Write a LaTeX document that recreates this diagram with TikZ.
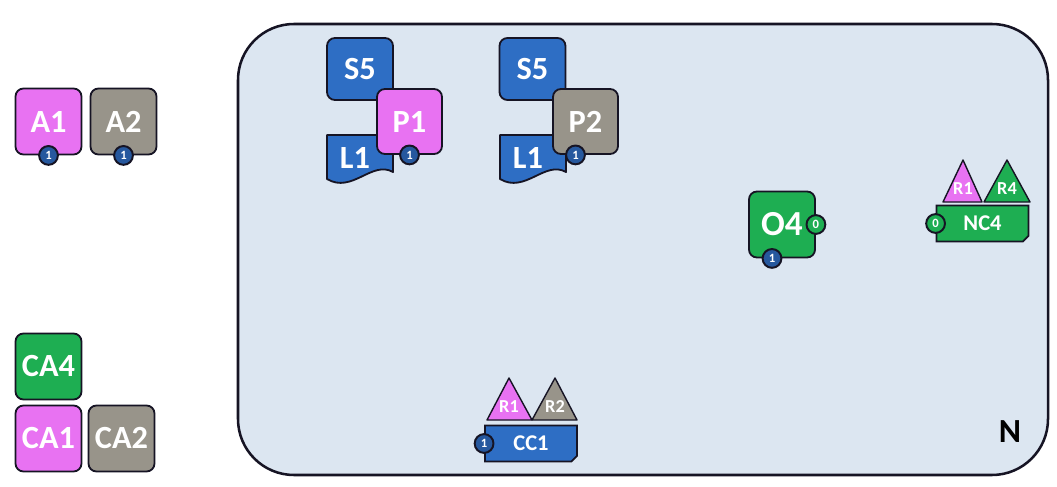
\documentclass[tikz,border=0pt]{standalone}
\usepackage{fontspec}
\setmainfont{Carlito}
\usetikzlibrary{shapes.misc}

\definecolor{pinkA}{RGB}{232,114,242}
\definecolor{grayA}{RGB}{152,148,138}
\definecolor{greenA}{RGB}{30,174,82}
\definecolor{blueA}{RGB}{46,110,196}
\definecolor{blueB}{RGB}{38,88,158}
\definecolor{field}{RGB}{220,230,241}
\definecolor{edge}{RGB}{22,20,36}

\tikzset{
  box/.style={draw=edge, line width=1.3pt, rounded corners=0.2cm, minimum width=1.65cm, minimum height=1.65cm,
    inner sep=0pt, text=white, font=\bfseries\fontsize{23}{23}\selectfont},
  boxtext/.style={text=white, font=\bfseries\fontsize{23}{23}\selectfont},
  badge/.style={circle, draw=edge, line width=1.4pt, fill=blueB, minimum size=0.47cm, inner sep=0pt,
    text=white, font=\bfseries\fontsize{9}{9}\selectfont},
  tag/.style={chamfered rectangle, chamfered rectangle corners=south east, chamfered rectangle xsep=0.07cm,
    chamfered rectangle ysep=0.07cm, draw=edge, line width=1.3pt, minimum width=2.3cm, minimum height=0.9cm,
    inner sep=0pt, text=white, font=\bfseries\fontsize{16}{16}\selectfont},
  tri/.style={draw=edge, line width=1pt, line join=round},
  tritext/.style={text=white, font=\bfseries\fontsize{13}{13}\selectfont},
}

\begin{document}
\begin{tikzpicture}[x=0.025cm, y=-0.025cm]
  \useasboundingbox (0,0) rectangle (1057,486);

  % network area
  \draw[fill=field, draw=edge, line width=1.8pt, rounded corners=1.4cm] (238,24) rectangle (1048,475);
  \node[text=black, font=\bfseries\fontsize{24}{24}\selectfont] (N) at (1010,432) {N};

  % left column
  \node[box, fill=pinkA] (A1) at (48.5,121.5) {A1};
  \node[box, fill=grayA] (A2) at (123.5,121.5) {A2};
  \node[badge] (A1b) at (A1.south) {1};
  \node[badge] (A2b) at (A2.south) {1};

  \node[box, fill=greenA] (CA4) at (48.5,366.5) {CA4};
  \node[box, fill=pinkA] (CA1) at (48.5,438.5) {CA1};
  \node[box, fill=grayA] (CA2) at (121.5,438.5) {CA2};

  % first stack
  \node[box, fill=blueA, minimum height=1.55cm] (S5a) at (360,69) {S5};
  \draw[tri, line width=1.3pt, fill=blueA] (327,135) -- (393,135) -- (393,172)
    .. controls (372,160) and (352,194) .. (327,179) -- cycle;
  \node[boxtext] (L1a) at (355,158) {L1};
  \node[box, fill=pinkA, minimum width=1.625cm, minimum height=1.625cm] (P1) at (409.5,121.5) {P1};
  \node[badge] (P1b) at (P1.south) {1};

  % second stack
  \node[box, fill=blueA, minimum height=1.55cm] (S5b) at (532.5,69) {S5};
  \draw[tri, line width=1.3pt, fill=blueA] (500,135) -- (566,135) -- (566,172)
    .. controls (545,160) and (525,194) .. (500,179) -- cycle;
  \node[boxtext] (L1b) at (528,158) {L1};
  \node[box, fill=grayA, minimum width=1.625cm, minimum height=1.625cm] (P2) at (585.5,121.5) {P2};
  \node[badge] (P2b) at ([xshift=-0.25cm]P2.south) {1};

  % O4
  \node[box, fill=greenA, font=\bfseries\fontsize{25}{25}\selectfont] (O4) at (782,224.5) {O4};
  \node[badge, fill=greenA] (O4z) at (O4.east) {0};
  \node[badge] (O4b) at ([xshift=-0.25cm]O4.south) {1};

  % NC4
  \draw[tri, fill=pinkA] (943,202) -- (963,160) -- (982,202) -- cycle;
  \node[tritext] (R1a) at (963,189) {R1};
  \draw[tri, fill=greenA] (984,202) -- (1007,160) -- (1030,202) -- cycle;
  \node[tritext] (R4) at (1007,189) {R4};
  \node[tag, fill=greenA] (NC4) at (982.5,223.5) {NC4};
  \node[badge, fill=greenA] (NC4z) at (NC4.west) {0};

  % CC1
  \draw[tri, fill=pinkA] (487,420) -- (509,378) -- (532,420) -- cycle;
  \node[tritext] (R1b) at (509,407) {R1};
  \draw[tri, fill=grayA] (532,420) -- (555,378) -- (577,420) -- cycle;
  \node[tritext] (R2) at (555,407) {R2};
  \node[tag, fill=blueA] (CC1) at (531,443.5) {CC1};
  \node[badge] (CC1b) at (CC1.west) {1};
\end{tikzpicture}
\end{document}
